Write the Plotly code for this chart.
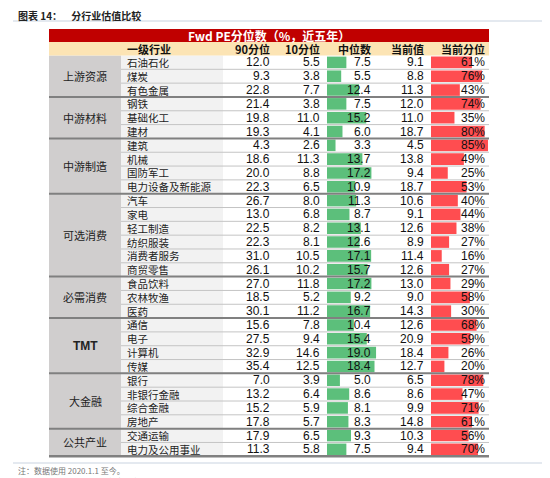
import plotly.graph_objects as go

groups = ["上游资源", "中游材料", "中游制造", "可选消费", "必需消费", "TMT", "大金融", "公共产业"]
group_sizes = [3, 3, 4, 6, 3, 4, 4, 2]
industries = ["石油石化", "煤炭", "有色金属", "钢铁", "基础化工", "建材", "建筑", "机械", "国防军工",
              "电力设备及新能源", "汽车", "家电", "轻工制造", "纺织服装", "消费者服务", "商贸零售",
              "食品饮料", "农林牧渔", "医药", "通信", "电子", "计算机", "传媒", "银行", "非银行金融",
              "综合金融", "房地产", "交通运输", "电力及公用事业"]
p90 = [12.0, 9.3, 22.8, 21.4, 19.8, 19.3, 4.3, 18.6, 20.0, 22.3, 26.7, 13.0, 22.5, 22.3, 31.0, 26.1,
       27.0, 18.5, 30.1, 15.6, 27.5, 32.9, 35.4, 7.0, 13.2, 15.2, 17.8, 17.9, 11.3]
p10 = [5.5, 3.8, 7.7, 3.8, 11.0, 4.1, 2.6, 11.3, 8.8, 6.5, 8.0, 6.8, 8.2, 8.1, 10.5, 10.2,
       11.8, 5.2, 11.2, 7.8, 9.4, 14.6, 12.5, 3.9, 6.4, 5.9, 5.7, 6.5, 5.8]
median = [7.5, 5.5, 12.4, 7.5, 15.2, 6.0, 3.3, 13.7, 17.2, 10.9, 11.3, 8.7, 13.1, 12.6, 17.1, 15.7,
          17.2, 9.2, 16.7, 10.4, 15.4, 19.0, 18.4, 5.0, 8.6, 8.1, 8.3, 9.3, 7.5]
current = [9.1, 8.8, 11.3, 12.0, 11.0, 18.7, 4.5, 13.8, 9.4, 18.7, 10.6, 9.1, 12.6, 8.9, 11.4, 12.6,
           13.0, 9.0, 14.3, 12.6, 20.9, 18.4, 12.7, 6.5, 8.6, 9.9, 14.8, 10.3, 9.4]
pct = [61, 76, 43, 74, 35, 80, 85, 49, 25, 53, 40, 44, 38, 27, 16, 27, 29, 58, 30, 68, 59, 26, 20,
       78, 47, 71, 61, 56, 70]
headers = ["一级行业", "90分位", "10分位", "中位数", "当前值", "当前分位"]

n = len(industries)
rows = list(range(n))
W, H = 550, 478
top = 47.5
rh = 13.82
CJK = "Noto Sans CJK SC"
NUM = "Liberation Sans"


def ry(p):  # pixel row -> row-unit coordinate on y axis
    return -0.5 + (p - top) / rh


fig = go.Figure()
fig.add_trace(go.Bar(x=median, y=rows, orientation="h", xaxis="x2", yaxis="y",
                     marker=dict(color="#5cbf7b", line=dict(width=0)), width=0.84, hoverinfo="skip"))
fig.add_trace(go.Bar(x=pct, y=rows, orientation="h", xaxis="x3", yaxis="y",
                     marker=dict(color="#ff4d50", line=dict(width=0)), width=0.84, hoverinfo="skip"))

ann = []
for i, name in enumerate(industries):
    ann.append(dict(x=117, y=i, xref="x", yref="y", text=name, showarrow=False, xanchor="left",
                    font=dict(family=CJK, size=10.5, color="#222")))
for xr, vals, fmt in [(264, p90, "{:.1f}"), (314, p10, "{:.1f}"), (365, median, "{:.1f}"),
                      (418, current, "{:.1f}"), (479, pct, "{}%")]:
    for i, v in enumerate(vals):
        ann.append(dict(x=xr, y=i, xref="x", yref="y", text=fmt.format(v), showarrow=False,
                        xanchor="right", font=dict(family=NUM, size=12, color="#111")))

shapes = []
shapes.append(dict(type="rect", xref="x", yref="y", x0=41, x1=113, y0=-0.5, y1=n - 0.5,
                   fillcolor="#d0cece", line=dict(width=0), layer="below"))
shapes.append(dict(type="rect", xref="x", yref="y", x0=113, x1=215, y0=-0.5, y1=n - 0.5,
                   fillcolor="#f2f2f2", line=dict(width=0), layer="below"))
for i in range(1, n):
    shapes.append(dict(type="line", xref="x", yref="y", x0=113, x1=481, y0=i - 0.5, y1=i - 0.5,
                       line=dict(color="#c4c4c4", width=1)))
b = 0
for s in group_sizes[:-1]:
    b += s
    shapes.append(dict(type="line", xref="x", yref="y", x0=41, x1=481, y0=b - 0.5, y1=b - 0.5,
                       line=dict(color="#808080", width=2)))
shapes.append(dict(type="line", xref="x", yref="y", x0=41, x1=481, y0=n - 0.5, y1=n - 0.5,
                   line=dict(color="#808080", width=2.5)))
shapes.append(dict(type="rect", xref="x", yref="y", x0=41, x1=481, y0=ry(34), y1=ry(21),
                   fillcolor="#c00000", line=dict(width=0)))
shapes.append(dict(type="rect", xref="x", yref="y", x0=41, x1=481, y0=ry(47.5), y1=ry(34),
                   fillcolor="#fce4b4", line=dict(width=0)))
shapes.append(dict(type="line", xref="x", yref="y", x0=5, x1=545, y0=ry(13), y1=ry(13),
                   line=dict(color="#c9d3e0", width=1)))
shapes.append(dict(type="line", xref="x", yref="y", x0=5, x1=545, y0=ry(455), y1=ry(455),
                   line=dict(color="#c9d3e0", width=1)))

ann.append(dict(x=8, y=ry(7), xref="x", yref="y", text="<b>图表 14：    分行业估值比较</b>",
                showarrow=False, xanchor="left", font=dict(family=CJK, size=10, color="#222")))
ann.append(dict(x=261, y=ry(27.5), xref="x", yref="y", text="<b>Fwd PE分位数（%，近五年）</b>",
                showarrow=False, font=dict(family=CJK, size=12, color="white")))
hx = [(117, "left"), (264, "right"), (314, "right"), (365, "right"), (418, "right"), (479, "right")]
for (x, a), h in zip(hx, headers):
    ann.append(dict(x=x, y=ry(41), xref="x", yref="y", text="<b>" + h + "</b>", showarrow=False,
                    xanchor=a, font=dict(family=CJK, size=11, color="#111")))
start = 0
for g, s in zip(groups, group_sizes):
    ann.append(dict(x=77, y=start + (s - 1) / 2, xref="x", yref="y",
                    text=("<b>" + g + "</b>") if g == "TMT" else g, showarrow=False,
                    font=dict(family=NUM if g == "TMT" else CJK, size=12 if g == "TMT" else 11, color="#222")))
    start += s
ann.append(dict(x=8, y=ry(462), xref="x", yref="y", text="注：数据使用 2020.1.1 至今。", showarrow=False,
                xanchor="left", font=dict(family=CJK, size=8, color="#777")))
ann.append(dict(x=8, y=ry(473), xref="x", yref="y", text="资料来源：Bloomberg，华泰研究", showarrow=False,
                xanchor="left", font=dict(family=CJK, size=8, color="#777")))

hid = dict(visible=False, showgrid=False, zeroline=False, fixedrange=True)
fig.update_layout(
    width=W, height=H, margin=dict(l=0, r=0, t=0, b=0), showlegend=False,
    paper_bgcolor="white", plot_bgcolor="rgba(0,0,0,0)", barmode="overlay",
    xaxis=dict(domain=[0, 1], range=[0, W], anchor="y", **hid),
    xaxis2=dict(domain=[319 / W, 374 / W], range=[0, 21.3], anchor="y", **hid),
    xaxis3=dict(domain=[423 / W, 481 / W], range=[0, 86.5], anchor="y", **hid),
    yaxis=dict(domain=[0, 1], range=[ry(H), ry(0)], **hid),
    shapes=shapes, annotations=ann,
)
fig.write_html("out.html")
